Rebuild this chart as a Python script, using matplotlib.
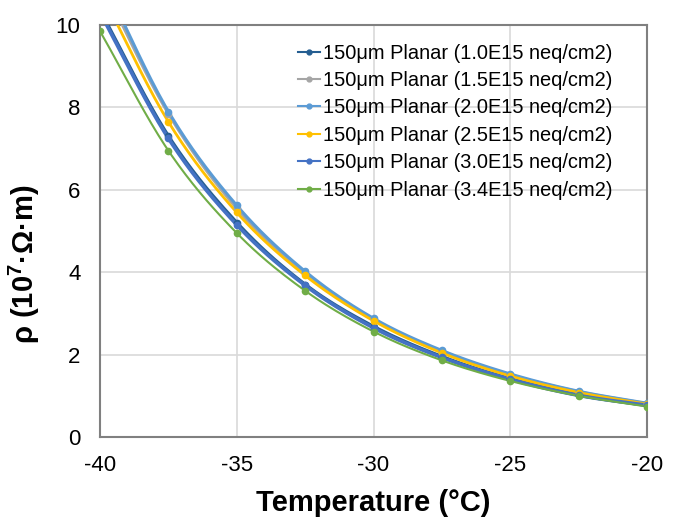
import numpy as np
import matplotlib
matplotlib.use("Agg")
import matplotlib.pyplot as plt

plt.rcParams['font.family'] = ['Liberation Sans', 'DejaVu Sans']
plt.rcParams['mathtext.fontset'] = 'custom'
plt.rcParams['mathtext.rm'] = 'Liberation Sans:bold'
plt.rcParams['mathtext.bf'] = 'Liberation Sans:bold'
plt.rcParams['axes.unicode_minus'] = False

temperature = [-40, -37.5, -35, -32.5, -30, -27.5, -25, -22.5, -20]
labels = [
    "150μm Planar (1.0E15 neq/cm2)",
    "150μm Planar (1.5E15 neq/cm2)",
    "150μm Planar (2.0E15 neq/cm2)",
    "150μm Planar (2.5E15 neq/cm2)",
    "150μm Planar (3.0E15 neq/cm2)",
    "150μm Planar (3.4E15 neq/cm2)",
]
rho_1p0 = [10.35, 7.30, 5.20, 3.70, 2.68, 1.95, 1.41, 1.02, 0.77]
rho_1p5 = [11.10, 7.85, 5.55, 3.98, 2.85, 2.08, 1.51, 1.10, 0.81]
rho_2p0 = [11.25, 7.90, 5.62, 4.02, 2.88, 2.10, 1.53, 1.11, 0.82]
rho_2p5 = [10.85, 7.65, 5.45, 3.92, 2.82, 2.04, 1.48, 1.08, 0.80]
rho_3p0 = [10.30, 7.25, 5.15, 3.68, 2.65, 1.93, 1.40, 1.01, 0.77]
rho_3p4 = [9.85, 6.95, 4.95, 3.55, 2.56, 1.86, 1.36, 1.00, 0.74]
series = [rho_1p0, rho_1p5, rho_2p0, rho_2p5, rho_3p0, rho_3p4]
colors = ['#255E91', '#A5A5A5', '#5B9BD5', '#FFC000', '#4472C4', '#70AD47']
widths = [2.6, 2.2, 2.2, 2.0, 2.6, 1.5]


def smooth(x, y, n=20):
    # Catmull-Rom spline through the data points (rendering only)
    x = np.asarray(x, float); y = np.asarray(y, float)
    px = np.concatenate([[2 * x[0] - x[1]], x, [2 * x[-1] - x[-2]]])
    py = np.concatenate([[2 * y[0] - y[1]], y, [2 * y[-1] - y[-2]]])
    xs, ys = [], []
    t = np.linspace(0, 1, n, endpoint=False)
    for i in range(1, len(px) - 2):
        for arr, out in ((px, xs), (py, ys)):
            p0, p1, p2, p3 = arr[i - 1], arr[i], arr[i + 1], arr[i + 2]
            out.append(0.5 * ((2 * p1) + (-p0 + p2) * t + (2 * p0 - 5 * p1 + 4 * p2 - p3) * t ** 2
                              + (-p0 + 3 * p1 - 3 * p2 + p3) * t ** 3))
    xs.append([x[-1]]); ys.append([y[-1]])
    return np.concatenate(xs), np.concatenate(ys)


fig = plt.figure(figsize=(6.79, 5.19), dpi=100)
ax = fig.add_axes([100 / 679, 82 / 519, 547 / 679, 412 / 519])

for ys, lab, c, w in zip(series, labels, colors, widths):
    sx, sy = smooth(temperature, ys)
    ax.plot(sx, sy, color=c, lw=w, zorder=3)
    ax.plot(temperature, ys, 'o', color=c, ms=4.5, zorder=4)
    ax.plot([], [], '-o', color=c, lw=1.5, ms=3.5, label=lab)

ax.set_xlim(-40, -20)
ax.set_ylim(0, 10)
ax.set_xticks([-40, -35, -30, -25, -20])
ax.set_yticks([0, 2, 4, 6, 8, 10])
ax.grid(True, color='#D9D9D9', lw=1.2)
ax.set_axisbelow(True)
for s in ax.spines.values():
    s.set_color('#808080')
    s.set_linewidth(1.5)
ax.tick_params(length=0, labelsize=16, colors='black')
ax.tick_params(axis='x', pad=13)
ax.tick_params(axis='y', pad=14)
ax.set_xlabel('Temperature (°C)', fontsize=21, fontweight='bold', labelpad=9)
ax.set_ylabel(r'ρ (10$^{7}$·Ω·m)', fontsize=21, fontweight='bold')
ax.yaxis.set_label_coords(-0.106, 0.42)

leg = ax.legend(loc='upper left', bbox_to_anchor=(0.362, 0.955), fontsize=14.4, frameon=False,
                handlelength=1.1, handletextpad=0.15, labelspacing=0.42, borderaxespad=0,
                borderpad=0)

fig.savefig('out.png', dpi=100)
